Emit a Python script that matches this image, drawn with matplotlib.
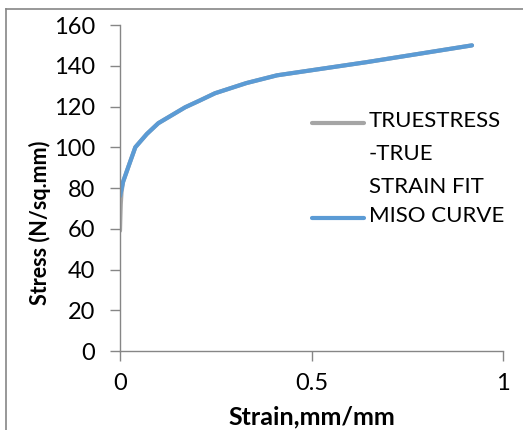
import matplotlib.pyplot as plt
from matplotlib.lines import Line2D

plt.rcParams['font.family'] = ['Lato', 'DejaVu Sans']

# true stress - true strain fit (grey, mostly hidden under the blue curve)
fit_strain = [0.0, 0.001, 0.002, 0.004, 0.008, 0.022, 0.04, 0.07, 0.1, 0.17, 0.209,
              0.248, 0.33, 0.41, 0.645, 0.919]
fit_stress = [59, 66, 72, 78, 83, 90.5, 100, 106.5, 111.8, 119.6, 123,
              126.5, 131.5, 135.3, 141.8, 150]

# multilinear isotropic (MISO) curve
miso_strain = [0.0, 0.008, 0.022, 0.04, 0.07, 0.1, 0.17, 0.209,
               0.248, 0.33, 0.41, 0.645, 0.919]
miso_stress = [76, 83, 90.5, 100, 106.5, 111.8, 119.6, 123,
               126.5, 131.5, 135.3, 141.8, 150]

series_labels = ['TRUESTRESS\n-TRUE\nSTRAIN FIT', 'MISO CURVE']
colors = ['#a5a5a5', '#5b9bd5']

fig = plt.figure(figsize=(5.23, 4.30), dpi=100)
ax = fig.add_axes([120/523, 1 - 351/430, (503-120)/523, (351-25)/430])

ax.plot(fit_strain, fit_stress, color=colors[0], lw=3.0, solid_capstyle='round')
ax.plot(miso_strain, miso_stress, color=colors[1], lw=3.0, solid_capstyle='round')

ax.set_xlim(0, 1)
ax.set_ylim(0, 160)
ax.set_xticks([0, 0.5, 1])
ax.set_xticklabels(['0', '0.5', '1'])
ax.set_yticks(range(0, 161, 20))

for s in ['top', 'right']:
    ax.spines[s].set_visible(False)
for s in ['left', 'bottom']:
    ax.spines[s].set_color('#868686')
    ax.spines[s].set_linewidth(1.0)
ax.tick_params(axis='both', colors='#868686', length=7, width=1.0,
               labelcolor='black', labelsize=17)
ax.tick_params(axis='x', pad=9)
ax.tick_params(axis='y', pad=11)

ax.set_xlabel('Strain,mm/mm', fontsize=18, fontweight='bold', labelpad=8)
ax.set_ylabel('Stress (N/sq.mm)', fontsize=15.5, fontweight='bold')
ax.yaxis.set_label_coords(-0.18, 0.393)

# legend drawn by hand so the grey key sits on the first text line
leg_y = [1 - 123/430, 1 - 218/430]
for lab, c, y in zip(series_labels, colors, leg_y):
    fig.add_artist(Line2D([312/523, 364/523], [y, y], transform=fig.transFigure,
                          color=c, lw=3.0, solid_capstyle='round'))
    fig.text(369/523, y + 12/430, lab, fontsize=16, va='top', ha='left',
             linespacing=1.8)

# chart area border (cropped at right and bottom)
fig.add_artist(Line2D([6/523, 6/523], [0, 1 - 9/430], transform=fig.transFigure,
                      color='#868686', lw=1.2))
fig.add_artist(Line2D([6/523, 1], [1 - 9/430, 1 - 9/430], transform=fig.transFigure,
                      color='#868686', lw=1.2))

fig.savefig('out.png', dpi=100)
